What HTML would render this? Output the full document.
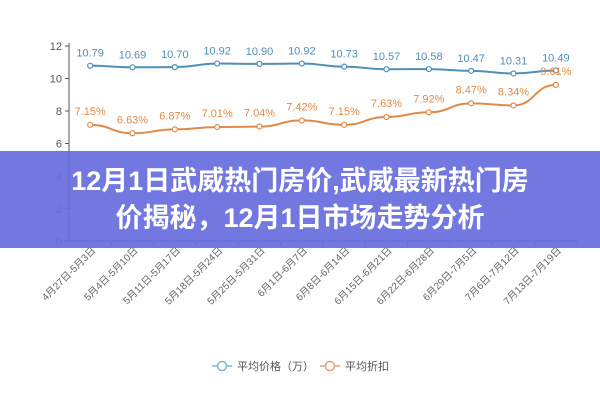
<!DOCTYPE html>
<html><head><meta charset="utf-8"><style>
body{margin:0;width:600px;height:400px;background:#fff;overflow:hidden;position:relative;font-family:"Liberation Sans","Noto Sans CJK SC",sans-serif}
svg{position:absolute;left:0;top:0}
#banner{position:absolute;left:0;top:151px;width:600px;height:97px;background:rgba(104,110,222,0.93);color:#fff;font-weight:bold;font-size:27px;line-height:37px;text-align:center;padding-top:12px;box-sizing:border-box;font-family:"Liberation Sans","Noto Sans CJK SC",sans-serif}
</style></head><body>
<svg width="600" height="400"><g id="g"></g></svg>
<div id="banner">12月1日武威热门房价,武威最新热门房<br>价揭秘，12月1日市场走势分析</div>
<script>
const categories=["4月27日-5月3日","5月4日-5月10日","5月11日-5月17日","5月18日-5月24日","5月25日-5月31日","6月1日-6月7日","6月8日-6月14日","6月15日-6月21日","6月22日-6月28日","6月29日-7月5日","7月6日-7月12日","7月13日-7月19日"];
const priceValues=[10.79,10.69,10.70,10.92,10.90,10.92,10.73,10.57,10.58,10.47,10.31,10.49];
const discountValues=[7.15,6.63,6.87,7.01,7.04,7.42,7.15,7.63,7.92,8.47,8.34,9.61];
const yTicks=[0,2,4,6,8,10,12];
const NS="http://www.w3.org/2000/svg";
const g=document.getElementById('g');
const x0=69,x1=577,yb=241,yt=46;
const band=(x1-x0)/categories.length;
function xs(i){return x0+band*(i+0.5);}
function ys(v){return yb-(v/12)*(yb-yt);}
function mk(t,a,p){const e=document.createElementNS(NS,t);for(const k in a)e.setAttribute(k,a[k]);(p||g).appendChild(e);return e;}
let ax=mk('line',{x1:x0,y1:yt-3,x2:x0,y2:yb,stroke:'#555'});


let bx=mk('line',{x1:x0,y1:yb,x2:x1,y2:yb,stroke:'#555'});


yTicks.forEach(v=>{
 mk('line',{x1:x0-4,y1:ys(v),x2:x0,y2:ys(v),stroke:'#555'});
 const t=mk('text',{x:x0-7,y:ys(v)+4,'text-anchor':'end','font-size':11,fill:'#555'});t.textContent=v;
 
 
});
categories.forEach((c,i)=>{
 const tx=x0+band*(i+1);
 mk('line',{x1:tx,y1:yb,x2:tx,y2:yb+4,stroke:'#555'});
 const t=mk('text',{x:xs(i)+6,y:yb+10,'text-anchor':'end','font-size':10,fill:'#666',transform:`rotate(-45 ${xs(i)+6} ${yb+10})`});t.textContent=c;
 
 
});
function series(vals,color,fmt,name,dy){
 let d='';vals.forEach((v,i)=>{const x=xs(i),y=ys(v);if(i==0)d+=`M${x},${y}`;else{const px=xs(i-1),py=ys(vals[i-1]);d+=` C${px+band/2},${py} ${x-band/2},${y} ${x},${y}`;}});
 const p=mk('path',{d:d,fill:'none',stroke:color,'stroke-width':2});
 
 
 vals.forEach((v,i)=>{
  const c=mk('circle',{cx:xs(i),cy:ys(v),r:2.5,fill:'#fff',stroke:color,'stroke-width':1.2});
  
  
  const t=mk('text',{x:xs(i),y:ys(v)-dy,'text-anchor':'middle','font-size':11,fill:color});t.textContent=fmt(v);
  
  
 });
}
series(priceValues,'#4f8fb8',v=>v.toFixed(2),'price',9);
series(discountValues,'#e08a4a',v=>v.toFixed(2)+'%','discount',10);
// legend
const lg=mk('g',{});


[[212,'#7fb5cc','平均价格（万）'],[320,'#e9a170','平均折扣']].forEach(([x,c,l])=>{
 const e=mk('g',{},lg);
 
 
 mk('line',{x1:x,y1:366,x2:x+20,y2:366,stroke:c,'stroke-width':1.5},e);
 mk('circle',{cx:x+10,cy:366,r:4.5,fill:'#fff',stroke:c,'stroke-width':1.5},e);
 const t=mk('text',{x:x+25,y:370,'font-size':11,fill:'#555'},e);t.textContent=l;
});
</script>
</body></html>
